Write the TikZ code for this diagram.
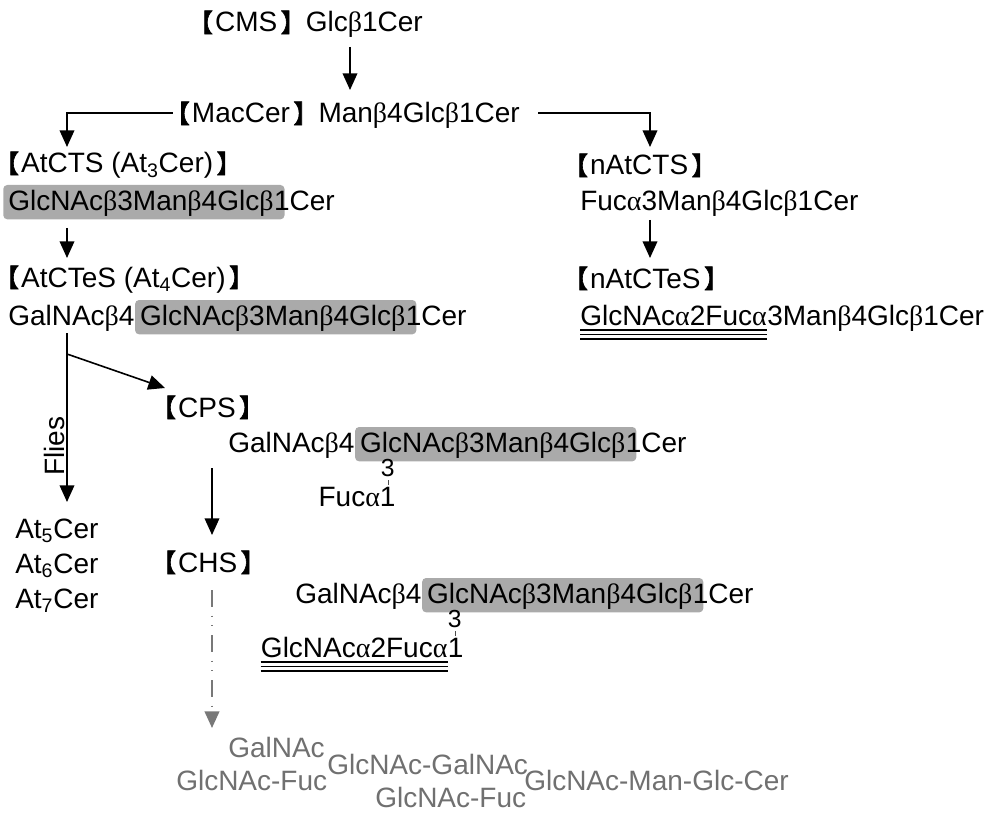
\documentclass[tikz,border=0pt]{standalone}
\usepackage{fontspec}
\setmainfont{Liberation Sans}
\newfontfamily\cjk[Scale=0.9, FakeBold=2.5]{Noto Sans CJK SC}
\newfontfamily\grkfont{Liberation Serif}
\usetikzlibrary{arrows.meta,calc}
\newcommand\lb{\kern-0.44em{\cjk 【}\kern1.5pt}
\newcommand\rb{\kern2.5pt{\cjk 】}}
\newcommand\bt{{\grkfont β}}
\newcommand\al{{\grkfont α}}
\newcommand\hlend{\kern4.5pt}
\newcommand\fs{\fontsize{21}{25}\selectfont}
\definecolor{hlgray}{RGB}{170,170,170}
\definecolor{tgray}{RGB}{112,112,112}
\definecolor{lgray}{RGB}{120,120,120}
\begin{document}
\begin{tikzpicture}[x=0.75pt,y=-0.75pt,
  txt/.style={anchor=base west, inner sep=0pt, font=\fs},
  gtxt/.style={txt, text=tgray},
  hl/.style={txt, fill=hlgray, rounded corners=3pt, inner xsep=3.75pt, inner ysep=0pt, text height=18.75pt, text depth=7pt},
  three/.style={anchor=base, inner sep=0pt, font=\fontsize{18.5}{22}\selectfont},
  arr/.style={line width=1.2pt, -{Triangle[length=12.5pt,width=11pt]}},
  garr/.style={line width=1.5pt, lgray, dash pattern=on 12.75pt off 6.5pt on 0.75pt off 6.5pt on 0.75pt off 6.5pt, -{Triangle[length=12.5pt,width=11pt]}},
  tick/.style={line width=0.6pt, black!70},
  ulline/.style={line width=0.9pt}]
\useasboundingbox (0,0) rectangle (1000,820);

% top
\node[txt, anchor=base east] (cms) at (423,32) {\lb CMS\rb Glc\bt1Cer};
\node[txt, anchor=base east] (mac) at (520,123) {\lb MacCer\rb Man\bt4Glc\bt1Cer};

% left branch
\node[txt] (atcts) at (6,173) {\lb AtCTS (At\textsubscript{3}Cer)\rb};
\node[hl] (hl1) at (3,210) {GlcNAc\bt3Man\bt4Glc\bt\hlend};
\node[txt] (c1) at ([xshift=-8.25pt]hl1.base east) {1Cer};

\node[txt] (atctes) at (6,287) {\lb AtCTeS (At\textsubscript{4}Cer)\rb};
\node[txt] (c2a) at (8,325) {GalNAc\bt4};
\node[hl] (hl2) at (c2a.base east) {GlcNAc\bt3Man\bt4Glc\bt\hlend};
\node[txt] (c2b) at ([xshift=-8.25pt]hl2.base east) {1Cer};

\node[txt, rotate=90, anchor=center] (flies) at (54,446) {Flies};
\node[txt] (at5) at (15,538) {At\textsubscript{5}Cer};
\node[txt] (at6) at (15,573) {At\textsubscript{6}Cer};
\node[txt] (at7) at (15,608) {At\textsubscript{7}Cer};

% CPS
\node[txt] (cps) at (163,417) {\lb CPS\rb};
\node[txt] (c3a) at (228,452) {GalNAc\bt4};
\node[hl] (hl3) at (c3a.base east) {GlcNAc\bt3Man\bt4Glc\bt\hlend};
\node[txt] (c3b) at ([xshift=-8.25pt]hl3.base east) {1Cer};
\node[three] (t3) at ($(hl3.base west)+(33,24)$) {3};
\node[txt, anchor=base east] (f3) at ($(hl3.base west)+(41,54)$) {Fuc\al1};
\draw[tick] ($(t3.base)+(1,4)$) -- ($(t3.base)+(1,9)$);

% CHS
\node[txt] (chs) at (163,572) {\lb CHS\rb};
\node[txt] (c4a) at (295,603) {GalNAc\bt4};
\node[hl] (hl4) at (c4a.base east) {GlcNAc\bt3Man\bt4Glc\bt\hlend};
\node[txt] (c4b) at ([xshift=-8.25pt]hl4.base east) {1Cer};
\node[three] (t4) at ($(hl4.base west)+(33,24)$) {3};
\node[txt, anchor=base east] (one4) at ($(hl4.base west)+(42,54)$) {1};
\node[txt, anchor=base east] (ul2) at (one4.base west) {GlcNAc\al2Fuc\al};
\draw[tick] ($(t4.base)+(1,4)$) -- ($(t4.base)+(1,9)$);
\foreach \d in {5,9.5,14}
  \draw[ulline] ($(ul2.base west)+(0,\d)$) -- ($(ul2.base east)+(0,\d)$);

% bottom grey
\node[gtxt] (g1) at (228,757) {GalNAc};
\node[gtxt] (g2) at (176,790) {GlcNAc-Fuc};
\node[gtxt] (g3) at (327,774) {GlcNAc-GalNAc};
\node[gtxt] (g4) at (375,807) {GlcNAc-Fuc};
\node[gtxt] (g5) at (524,790) {GlcNAc-Man-Glc-Cer};

% right branch
\node[txt] (natcts) at (575,175) {\lb nAtCTS\rb};
\node[txt] (c5) at (580,210) {Fuc\al3Man\bt4Glc\bt1Cer};
\node[txt] (natctes) at (575,288) {\lb nAtCTeS\rb};
\node[txt] (ul1) at (580,325) {GlcNAc\al2Fuc\al};
\node[txt] (c6) at (ul1.base east) {3Man\bt4Glc\bt1Cer};
\foreach \d in {5,9.5,14}
  \draw[ulline] ($(ul1.base west)+(0,\d)$) -- ($(ul1.base east)+(0,\d)$);

% connectors
\draw[arr] ($(cms.base east)+(-73,15)$) -- ($(mac.base east)+(-170,-33)$);
\draw[arr] ($(mac.base west)+(-4,-10)$) -| ($(atcts.base west)+(61,-26)$);
\draw[arr] ($(mac.base east)+(18,-10)$) -| ($(natcts.base west)+(75,-28)$);
\draw[arr] ($(hl1.base west)+(64,18)$) -- ($(atctes.base west)+(61,-29)$);
\draw[arr] ($(c5.base west)+(70,10)$) -- ($(natctes.base west)+(75,-30)$);
\draw[arr] ($(c2a.base west)+(59,8)$) -- ($(at5.base west)+(52,-36)$);
\draw[arr] ($(c2a.base west)+(59,29)$) -- ($(cps.base west)+(2,-29)$);
\draw[arr] ($(cps.base west)+(49,51)$) -- ($(chs.base west)+(49,-37)$);
\draw[garr] ($(chs.base west)+(49,18)$) -- ($(g1.base west)+(-16,-29)$);
\end{tikzpicture}
\end{document}
